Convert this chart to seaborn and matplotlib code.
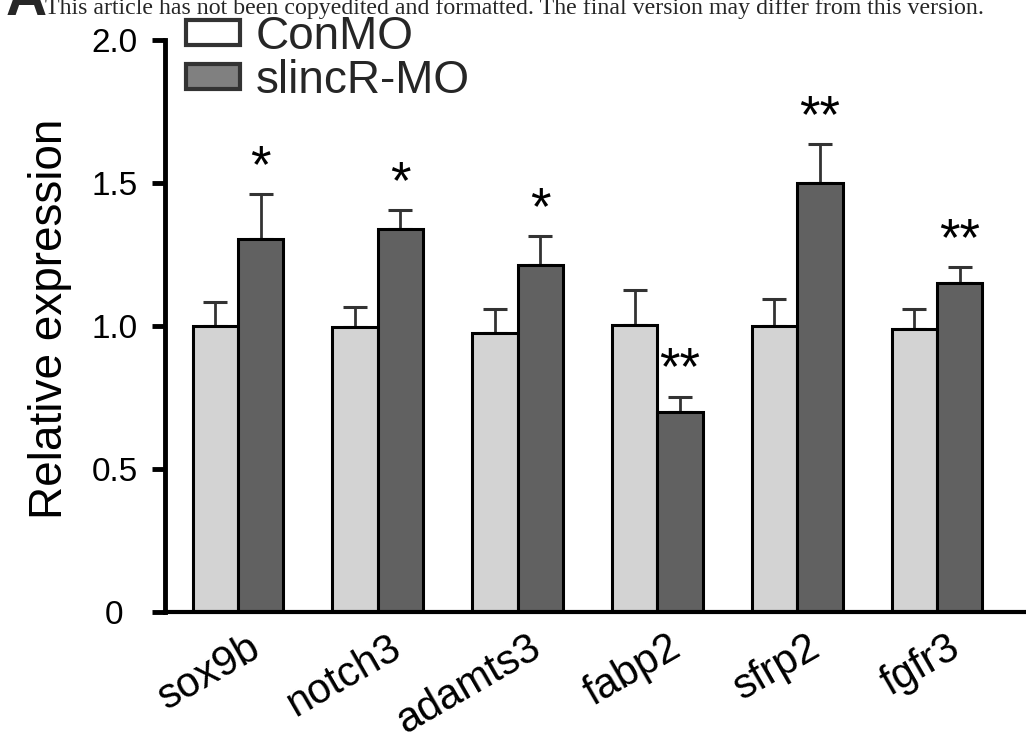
import matplotlib
matplotlib.use("Agg")
import matplotlib.pyplot as plt
import matplotlib.transforms as mtransforms
from matplotlib.patches import Patch
import seaborn as sns
import pandas as pd

genes = ["sox9b", "notch3", "adamts3", "fabp2", "sfrp2", "fgfr3"]
groups = ["ConMO", "slincR-MO"]
con_mean = [1.00, 0.995, 0.975, 1.005, 1.00, 0.99]
con_err = [0.085, 0.07, 0.085, 0.12, 0.095, 0.07]
slinc_mean = [1.305, 1.34, 1.215, 0.70, 1.50, 1.15]
slinc_err = [0.155, 0.065, 0.10, 0.053, 0.135, 0.055]
sig = ["*", "*", "*", "**", "**", "**"]
yticks = [0, 0.5, 1.0, 1.5, 2.0]
yticklabels = ["0", "0.5", "1.0", "1.5", "2.0"]

sns.set_theme(style="white")
plt.rcParams["font.family"] = ["Liberation Sans", "DejaVu Sans"]

df = pd.DataFrame({
    "gene": genes * 2,
    "group": [groups[0]] * len(genes) + [groups[1]] * len(genes),
    "value": con_mean + slinc_mean,
})

fig = plt.figure(figsize=(10.26, 7.44), dpi=100)
ax = fig.add_axes([165 / 1026, 1 - 612 / 744, (1026 - 165) / 1026, 572 / 744])

sns.barplot(data=df, x="gene", y="value", hue="group", order=genes, hue_order=groups,
            palette=["#d3d3d3", "#616161"], width=0.65, gap=0, edgecolor="black",
            linewidth=2.2, errorbar=None, legend=False, ax=ax, zorder=2)

ax.set_xlim(-0.522, 5.637)
ax.set_ylim(0, 2.0)

# error bars from seaborn-placed bars
bars = sorted(ax.patches, key=lambda p: p.get_x())
con_bars = bars[0::2]
sl_bars = bars[1::2]
for blist, errs in ((con_bars, con_err), (sl_bars, slinc_err)):
    xs = [p.get_x() + p.get_width() / 2 for p in blist]
    hs = [p.get_height() for p in blist]
    ax.errorbar(xs, hs, yerr=[[0] * len(errs), errs], fmt="none", ecolor="#333333",
                elinewidth=2.0, capsize=8.6, capthick=2.2, zorder=1)

# significance stars
fs_star = 38
star_tr = mtransforms.offset_copy(ax.transData, fig=fig, y=-0.58 * fs_star, units="points")
for p, e, s in zip(sl_bars, slinc_err, sig):
    ax.text(p.get_x() + p.get_width() / 2, p.get_height() + e + 0.15, s,
            ha="center", va="baseline", fontsize=fs_star, transform=star_tr, color="black")

# axes styling
sns.despine(ax=ax)
ax.spines["left"].set_linewidth(3.5)
ax.spines["bottom"].set_linewidth(3.0)
ax.spines["left"].set_color("black")
ax.spines["bottom"].set_color("black")

ax.set_yticks(yticks)
ax.set_yticklabels(yticklabels)
ax.tick_params(axis="y", left=True, length=9.4, width=3.5, pad=27, labelsize=24,
               color="black", labelcolor="black")
for lab in ax.get_yticklabels():
    lab.set_horizontalalignment("center")

ax.tick_params(axis="x", bottom=False, length=0, pad=11, labelsize=30, labelcolor="black")
offset = mtransforms.ScaledTranslation(0.10, 0, fig.dpi_scale_trans)
for lab in ax.get_xticklabels():
    lab.set_rotation(30)
    lab.set_horizontalalignment("right")
    lab.set_verticalalignment("top")
    lab.set_rotation_mode("anchor")
    lab.set_transform(lab.get_transform() + offset)

ax.set_xlabel("")
ax.set_ylabel("Relative expression", fontsize=33, color="black")
ax.yaxis.set_label_coords(-0.108, 0.512)

handles = [Patch(facecolor="white", edgecolor="#333333", linewidth=3, label=groups[0]),
           Patch(facecolor="#808080", edgecolor="#333333", linewidth=3, label=groups[1])]
fig.legend(handles=handles, loc="upper left", bbox_to_anchor=(186 / 1026, 1 - 15 / 744),
           frameon=False, fontsize=33, handlelength=1.18, handleheight=0.47,
           handletextpad=0.35, labelspacing=0.0, borderpad=0, borderaxespad=0)

fig.text(45 / 1026, 1 - 14 / 744,
         "This article has not been copyedited and formatted. The final version may differ from this version.",
         family=["Liberation Serif", "DejaVu Serif"], fontsize=17.2, va="baseline", ha="left")
fig.text(6 / 1026, 1 - 15 / 744, "A", fontsize=41, fontweight="bold", va="baseline", ha="left")

fig.savefig("out.png", dpi=100)
